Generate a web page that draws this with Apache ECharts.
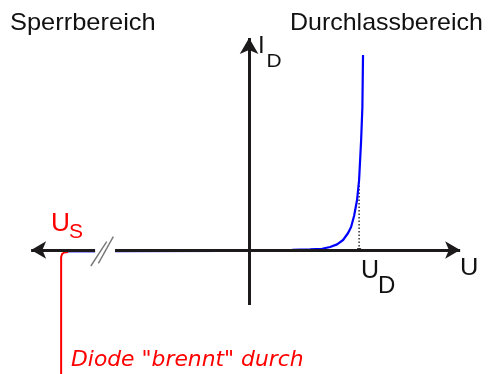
<!DOCTYPE html>
<html><head><meta charset="utf-8">
<script src="https://cdn.jsdelivr.net/npm/echarts@6/dist/echarts.min.js"></script>
<style>html,body{margin:0;padding:0;background:#fff}#c{width:490px;height:374px}</style>
</head><body><div id="c"></div>
<script>
// Diode characteristic (U in V, I in mA, schematic)
const leakU = [-1.177, -0.98];
const leakI = [-0.7, -0.7];
const forwardU = [-0.853, -0.15, 0.05, 0.274, 0.388, 0.465, 0.515, 0.56, 0.598, 0.63, 0.649, 0.668, 0.687, 0.7, 0.713, 0.721, 0.725];
const forwardI = [-0.6, -0.4, 0, 0.1, 0.3, 0.6, 1.5, 2.8, 5, 8.5, 11.5, 17, 25, 35, 55, 71.5, 97.5];
const breakU = [-1.196, -1.196, -1.19, -1.177, -1.152];
const breakI = [-62, -3.5, -2, -1.25, -1];
const U_D = 0.7;
const I_at_UD = 34;
const uAxisEnds = [-1.387, -0.98, -0.853, 1.343];   // left end, gap start, gap end, right end
const iAxisEnds = [-27.5, 106];
const slashes = [[[-1.007, -8], [-0.906, 4.15]], [[-0.959, -6.65], [-0.864, 6.65]]];
const labels = ['Sperrbereich', 'Durchlassbereich', 'I', 'D', 'U', 'U', 'D', 'U', 'S', 'Diode "brennt" durch'];

const pair = (xs, ys) => xs.map((x, i) => [x, ys[i]]);
const AX = '#1c1a1a';
const chart = echarts.init(document.getElementById('c'));
const txt = (t, x, y, size, color, sx, family, style) => ({
  type: 'text', x: x, y: y, scaleX: sx || 1, silent: true,
  style: { text: t, x: 0, y: 0, fill: color, align: 'left', verticalAlign: 'middle',
    font: (style || 'normal') + ' ' + size + 'px ' + (family || '"Liberation Sans", Arial, sans-serif') }
});
chart.setOption({
  animation: false,
  grid: { left: 0, right: 0, top: 0, bottom: 0 },
  xAxis: { type: 'value', min: -1.585, max: 1.533, show: false },
  yAxis: { type: 'value', min: -62, max: 125, show: false },
  series: [
    { type: 'line', data: [], z: 1,
      markLine: { silent: true, animation: false, label: { show: false },
        lineStyle: { color: AX, width: 3, type: 'solid' }, symbol: ['none', 'none'],
        data: [
          [{ coord: [uAxisEnds[0], 0], symbol: 'arrow', symbolSize: [13, 15] }, { coord: [uAxisEnds[1], 0], symbol: 'none' }],
          [{ coord: [uAxisEnds[2], 0], symbol: 'none' }, { coord: [uAxisEnds[3], 0], symbol: 'arrow', symbolSize: [13, 15] }],
          [{ coord: [0, iAxisEnds[0]], symbol: 'none' }, { coord: [0, iAxisEnds[1]], symbol: 'arrow', symbolSize: [14, 16] }]
        ] } },
    { type: 'line', data: [], z: 1,
      markLine: { silent: true, animation: false, label: { show: false }, symbol: ['none', 'none'],
        lineStyle: { color: '#777', width: 1.4, type: 'solid' },
        data: slashes.map(s => [{ coord: s[0] }, { coord: s[1] }]) } },
    { type: 'line', data: [[U_D, 0], [U_D, I_at_UD]], showSymbol: false, z: 2,
      lineStyle: { color: '#111', width: 1.3, type: [1.5, 2] } },
    { type: 'scatter', data: [[U_D, 0]], symbol: 'rect', symbolSize: 4, itemStyle: { color: '#111' }, z: 3 },
    { type: 'line', data: pair(leakU, leakI), showSymbol: false, z: 3,
      lineStyle: { color: '#0000ff', width: 2 } },
    { type: 'line', data: pair(forwardU, forwardI), showSymbol: false, z: 3,
      lineStyle: { color: '#0000ff', width: 2.2 } },
    { type: 'line', data: pair(breakU, breakI), showSymbol: false, z: 4,
      lineStyle: { color: '#ff0000', width: 2 } }
  ],
  graphic: [
    txt(labels[0], 10, 23, 24, '#111', 1.06),
    txt(labels[1], 290, 23, 24, '#111', 1.04),
    txt(labels[2], 258, 46.5, 24, '#111', 1.0),
    txt(labels[3], 266.5, 61.5, 19, '#111', 1.1),
    txt(labels[4], 460, 268.5, 24, '#111', 1.06),
    txt(labels[5], 361, 271, 25, '#111', 1.0),
    txt(labels[6], 378, 286, 24, '#111', 1.0),
    txt(labels[7], 51, 224, 25, '#ff0000', 1.05),
    txt(labels[8], 69, 232, 20, '#ff0000', 1.05),
    txt(labels[9], 71, 360.5, 21, '#ff0000', 1.04, '"DejaVu Sans", sans-serif', 'oblique')
  ]
});
</script></body></html>
